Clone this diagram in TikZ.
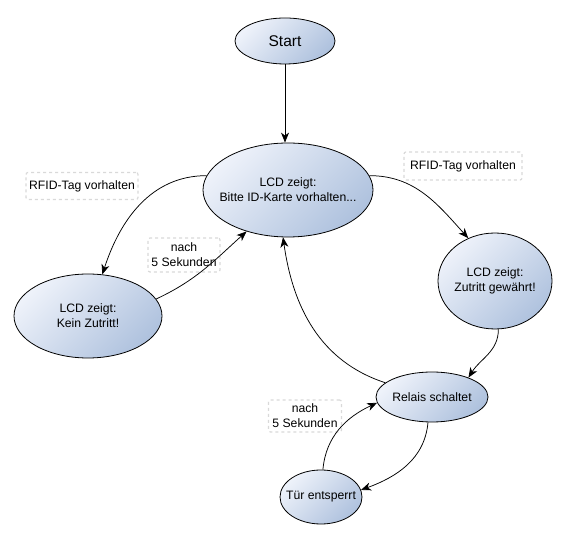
\documentclass[tikz,border=0pt]{standalone}
\usepackage{fontspec}
\setmainfont{Liberation Sans}
\usetikzlibrary{shapes.geometric,arrows.meta}
\definecolor{stlight}{HTML}{EEF2FA}
\definecolor{stdark}{HTML}{AFC2DE}
\begin{document}
\begin{tikzpicture}[x=1pt,y=1pt,
  state/.style={ellipse,draw=black,line width=0.8pt,inner sep=0pt,
    top color=stlight,bottom color=stdark,shading angle=45},
  txt/.style={align=center,inner sep=0pt,font=\fontsize{12.2}{15}\selectfont},
  lbl/.style={draw=black!15,dashed,line width=1.2pt,rounded corners=2pt,
    align=center,inner sep=0pt,font=\fontsize{12.2}{15}\selectfont},
  conn/.style={line width=0.75pt,-{Stealth[length=10pt,width=8pt,inset=3pt]}}]
\useasboundingbox (0,0) rectangle (569,537);
% states
\node[state,minimum width=100,minimum height=46] (start) at (285,496) {};
\node[txt,font=\fontsize{15.5}{18}\selectfont] (startt) at (start) {Start};
\node[state,minimum width=170,minimum height=94] (lcd) at (288,347) {};
\node[txt] (lcdt) at (lcd) {LCD zeigt:\\Bitte ID-Karte vorhalten...};
\node[state,minimum width=148,minimum height=84] (kein) at (88,221) {};
\node[txt] (keint) at (kein) {LCD zeigt:\\Kein Zutritt!};
\node[state,minimum width=114,minimum height=96] (zug) at (495,256) {};
\node[txt] (zugt) at (zug) {LCD zeigt:\\Zutritt gewährt!};
\node[state,minimum width=112,minimum height=50] (relais) at (432,140) {};
\node[txt] (relaist) at (relais) {Relais schaltet};
\node[state,minimum width=82,minimum height=54] (tuer) at (321,40) {};
\node[txt] (tuert) at (tuer) {Tür entsperrt};
% labels
\node[lbl,minimum width=112,minimum height=27] (l1) at (82,351) {RFID-Tag vorhalten};
\node[lbl,minimum width=118,minimum height=28] (l2) at (463,371) {RFID-Tag vorhalten};
\node[lbl,minimum width=72,minimum height=34] (l3) at (184,282) {nach\\5 Sekunden};
\node[lbl,minimum width=73,minimum height=32] (l4) at (305,121) {nach\\5 Sekunden};
% connectors
\draw[conn] (start.south) -- (lcd.north -| start.south);
\draw[conn] (lcd.170) to[out=180,in=72] (kein.71);
\draw[conn] (kein.14) to[out=25,in=222] (lcd.225);
\draw[conn] (lcd.10) to[out=0,in=132] (zug.122);
\draw[conn] (zug.274) to[out=-90,in=58] (relais.28);
\draw[conn] (relais.163) to[out=162,in=-82] (lcd.264);
\draw[conn] (relais.261) to[out=-95,in=20] (tuer.10);
\draw[conn] (tuer.86) to[out=85,in=205] (relais.186);
\end{tikzpicture}
\end{document}
